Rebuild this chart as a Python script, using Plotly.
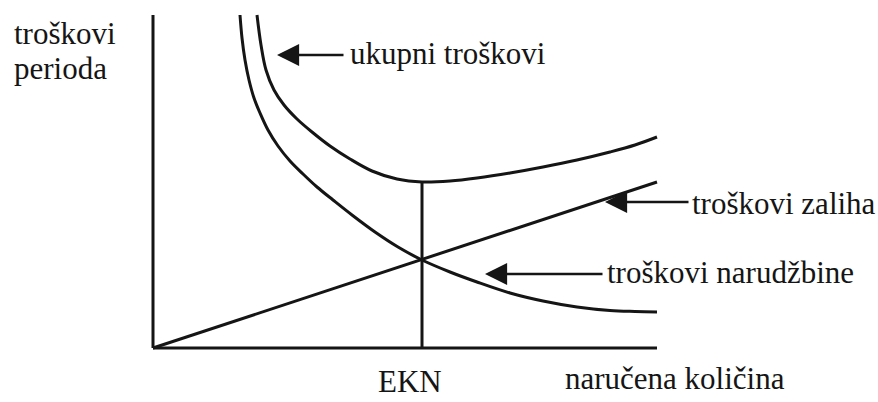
import plotly.graph_objects as go

# ---- data (arbitrary quantity / cost units) ----
order_q = [17.4, 17.8, 18.4, 19.2, 20.2, 21.4, 23.0, 25.0, 27.4, 30.0, 32.8, 36.0,
           39.8, 44.4, 49.0, 53.8, 59.4, 64.8, 71.4, 78.0, 84.8, 91.4, 96.4, 100.8]
order_cost = [166.5, 155.0, 144.0, 134.0, 125.0, 117.5, 109.0, 101.0, 93.5, 87.0, 80.5, 74.0,
              66.5, 58.0, 50.5, 44.0, 38.0, 33.0, 27.5, 23.5, 20.5, 18.75, 18.25, 18.0]

total_q = [20.8, 21.6, 22.6, 24.2, 26.2, 28.8, 31.8, 35.4, 39.4, 43.8, 48.8, 53.8,
           59.4, 64.8, 71.4, 78.0, 84.8, 91.4, 96.4, 100.8]
total_cost = [166.5, 151.5, 139.0, 129.0, 121.5, 114.5, 108.0, 101.0, 94.5, 88.5, 84.5, 83.0,
              83.5, 85.0, 87.5, 90.5, 94.0, 98.0, 101.5, 105.5]

hold_q = [0.0, 100.8]
hold_cost = [0.0, 83.0]

ekn_q = 53.8
ekn_cost = 83.0
x_axis_end = 100.8
y_axis_end = 166.5

y_label = ["troškovi", "perioda"]
x_label = "naručena količina"
ekn_label = "EKN"
curve_labels = ["ukupni troškovi", "troškovi zaliha", "troškovi narudžbine"]

INK = "#151515"
LW = 3
FONT = "Liberation Serif"
FS = 31

fig = go.Figure()

def line(x, y, shape="linear"):
    fig.add_trace(go.Scatter(x=x, y=y, mode="lines",
                             line=dict(color=INK, width=LW, shape=shape, smoothing=1.0),
                             hoverinfo="skip", showlegend=False, cliponaxis=False))

# axes
line([0, 0], [0, y_axis_end])
line([0, x_axis_end], [0, 0])
# curves
line(order_q, order_cost, "spline")
line(total_q, total_cost, "spline")
line(hold_q, hold_cost)
# EKN vertical
line([ekn_q, ekn_q], [0, ekn_cost])

ann = []
def text(t, x, y, xanchor="left", yanchor="middle"):
    ann.append(dict(text=t, x=x, y=y, xref="x", yref="y", xanchor=xanchor, yanchor=yanchor,
                    showarrow=False, font=dict(family=FONT, size=FS, color=INK)))

def arrow(x_tip, x_tail, y):
    ann.append(dict(text="", x=x_tip, y=y, ax=x_tail, ay=y, xref="x", yref="y",
                    axref="x", ayref="y", showarrow=True, arrowhead=2, arrowsize=1.7,
                    arrowwidth=2.6, arrowcolor=INK))

text(y_label[0], -28.2, 157.5)
text(y_label[1], -28.2, 140.0)
text(curve_labels[0], 39.0, 147.5)
text(curve_labels[1], 107.4, 72.5)
text(curve_labels[2], 90.4, 38.0)
text(ekn_label, 51.4, -26.3, "center", "bottom")
text(x_label, 82.0, -15.0)

arrow(24.8, 38.4, 146.5)
arrow(90.4, 107.4, 73.0)
arrow(66.4, 90.2, 37.0)

fig.update_layout(
    width=878, height=402,
    margin=dict(l=0, r=0, t=0, b=0),
    paper_bgcolor="white", plot_bgcolor="white",
    xaxis=dict(range=[-153 / 5, 725 / 5], visible=False, fixedrange=True),
    yaxis=dict(range=[-54 / 2, 348 / 2], visible=False, fixedrange=True),
    annotations=ann,
    showlegend=False,
)

fig.write_html("out.html", config={"displayModeBar": False},
               post_script="document.body.style.margin='0';document.body.style.overflow='hidden';")
